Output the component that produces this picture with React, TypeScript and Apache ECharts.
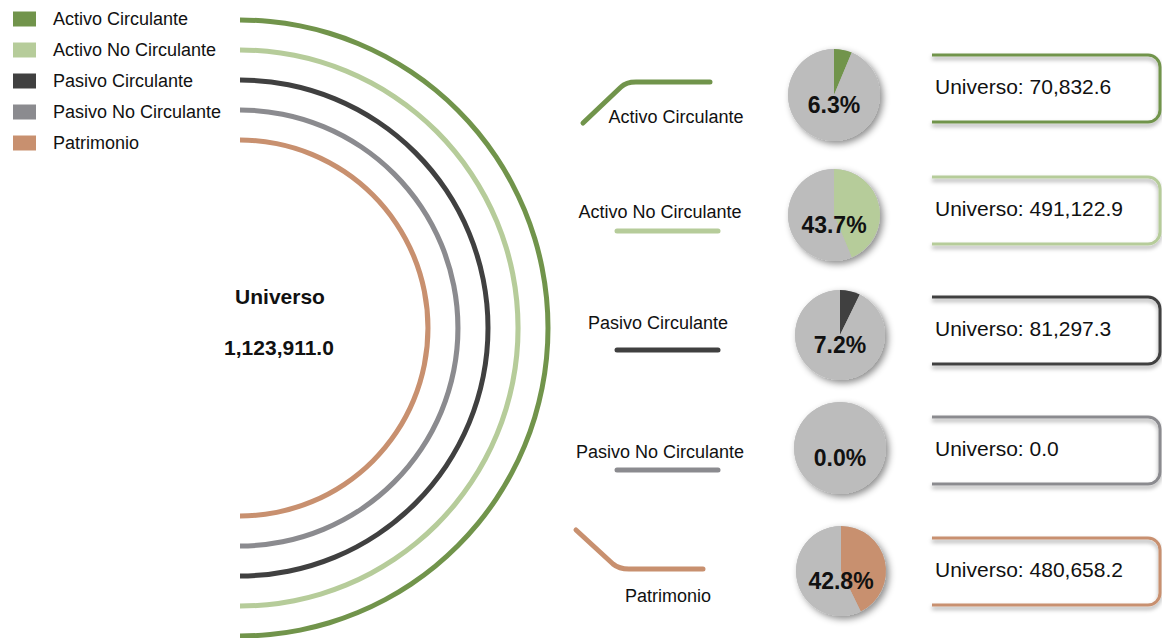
import React, { useEffect, useRef } from "react";
import * as echarts from "echarts";

const categories = ["Activo Circulante", "Activo No Circulante", "Pasivo Circulante", "Pasivo No Circulante", "Patrimonio"];
const values = [70832.6, 491122.9, 81297.3, 0.0, 480658.2];
const colors = ["#71944B", "#B6CC9A", "#404040", "#8B8B8F", "#C8906F"];
const restColor = "#BCBCBC";
const centerTitle = "Universo";
const boxPrefix = "Universo: ";

// layout (positions, sizes)
const arcCenter = [240, 328];
const arcRadii = [308, 278, 248, 218, 188];
const pieCenters = [[834, 95], [834, 215], [840, 335], [840, 448], [841, 571]];
const pieRadii = [46, 46, 45, 46, 45];
const boxTops = [55, 177, 297, 417, 538];
const boxLeft = 932;
const lineYs = [82, 231, 350, 470, 569];
const labelPos = [[676, 117], [660, 212], [658, 323], [660, 452], [668, 596]];

const FONT = "'Liberation Sans', Arial, sans-serif";

const fmt = (v: number) =>
  v.toLocaleString("en-US", { minimumFractionDigits: 1, maximumFractionDigits: 1 });

echarts.graphic.registerShape(
  "openbox",
  echarts.graphic.extendPath("M0 0 H216 A12 12 0 0 1 228 12 V55 A12 12 0 0 1 216 67 H0", {})
);
echarts.graphic.registerShape(
  "connUp",
  echarts.graphic.extendPath("M583 123 L621 87 Q626 82 636 82 L710 82", {})
);
echarts.graphic.registerShape(
  "connDown",
  echarts.graphic.extendPath("M576 530 L613 564 Q619 569 629 569 L703 569", {})
);

export default function App() {
  const ref = useRef<HTMLDivElement>(null);
  useEffect(() => {
    if (!ref.current) return;
    const chart = echarts.init(ref.current, undefined, { renderer: "svg" });
    const total = values.reduce((a, b) => a + b, 0);

    const arcSeries = categories.map((c, i) => ({
      type: "pie",
      silent: true,
      center: arcCenter,
      radius: [arcRadii[i] - 2.5, arcRadii[i] + 2.5],
      startAngle: 90,
      clockwise: true,
      label: { show: false },
      labelLine: { show: false },
      emphasis: { disabled: true },
      itemStyle: { borderWidth: 0 },
      data: [
        { name: c, value: 1, itemStyle: { color: colors[i] } },
        { name: "", value: 1, itemStyle: { color: "rgba(0,0,0,0)" } },
      ],
    }));

    const pieSeries = categories.map((c, i) => ({
      type: "pie",
      silent: true,
      center: pieCenters[i],
      radius: pieRadii[i],
      startAngle: 90,
      clockwise: true,
      label: { show: false },
      labelLine: { show: false },
      emphasis: { disabled: true },
      itemStyle: { borderWidth: 0 },
      data: [
        { name: c, value: values[i], itemStyle: { color: colors[i] } },
        {
          name: "Resto",
          value: total - values[i],
          itemStyle: { color: restColor },
          label: {
            show: true,
            position: "center",
            formatter: () => "{s|}\n{p|" + ((values[i] / total) * 100).toFixed(1) + "%}",
            rich: {
              s: { height: 20, lineHeight: 20, fontSize: 10 },
              p: {
                fontSize: 23,
                lineHeight: 26,
                fontWeight: "bold",
                fontFamily: FONT,
                color: "#111",
              },
            },
          },
        },
      ],
    }));

    const graphics: any[] = [];
    categories.forEach((c, i) => {
      graphics.push({
        type: "circle",
        silent: true,
        shape: { cx: pieCenters[i][0], cy: pieCenters[i][1], r: pieRadii[i] },
        style: {
          fill: restColor,
          shadowBlur: 7,
          shadowOffsetX: 3,
          shadowOffsetY: 3,
          shadowColor: "rgba(0,0,0,0.45)",
        },
      });
      graphics.push({
        type: "openbox",
        silent: true,
        x: boxLeft,
        y: boxTops[i],
        style: {
          fill: "none",
          stroke: colors[i],
          lineWidth: 3,
          shadowBlur: 4,
          shadowOffsetY: 3,
          shadowColor: "rgba(0,0,0,0.35)",
        },
      });
      graphics.push({
        type: "text",
        silent: true,
        x: boxLeft + 3,
        y: boxTops[i] + 31,
        style: {
          text: boxPrefix + fmt(values[i]),
          fontSize: 21,
          fontFamily: FONT,
          fill: "#111",
          align: "left",
          verticalAlign: "middle",
        },
      });
      graphics.push({
        type: "text",
        silent: true,
        x: labelPos[i][0],
        y: labelPos[i][1],
        style: {
          text: c,
          fontSize: 18,
          fontFamily: FONT,
          fill: "#111",
          align: "center",
          verticalAlign: "middle",
        },
      });
      if (i === 0) {
        graphics.push({
          type: "connUp",
          silent: true,
          style: { fill: "none", stroke: colors[i], lineWidth: 5, lineCap: "round", lineJoin: "round" },
        });
      } else if (i === categories.length - 1) {
        graphics.push({
          type: "connDown",
          silent: true,
          style: { fill: "none", stroke: colors[i], lineWidth: 5, lineCap: "round", lineJoin: "round" },
        });
      } else {
        graphics.push({
          type: "line",
          silent: true,
          shape: { x1: 617, y1: lineYs[i], x2: 718, y2: lineYs[i] },
          style: { stroke: colors[i], lineWidth: 5, lineCap: "round" },
        });
      }
    });
    graphics.push({
      type: "text",
      silent: true,
      x: 280,
      y: 296,
      style: {
        text: centerTitle,
        fontSize: 21,
        fontWeight: "bold",
        fontFamily: FONT,
        fill: "#111",
        align: "center",
        verticalAlign: "middle",
      },
    });
    graphics.push({
      type: "text",
      silent: true,
      x: 279,
      y: 347,
      style: {
        text: fmt(total),
        fontSize: 21,
        fontWeight: "bold",
        fontFamily: FONT,
        fill: "#111",
        align: "center",
        verticalAlign: "middle",
      },
    });

    chart.setOption({
      animation: false,
      backgroundColor: "#ffffff",
      legend: {
        orient: "vertical",
        left: 8,
        top: 5,
        itemWidth: 23,
        itemHeight: 15,
        itemGap: 13,
        icon: "rect",
        selectedMode: false,
        data: categories,
        textStyle: {
          fontSize: 18,
          lineHeight: 18,
          fontFamily: FONT,
          color: "#111",
          padding: [0, 0, 0, 12],
        },
      },
      graphic: graphics,
      series: [...arcSeries, ...pieSeries],
    });
    return () => chart.dispose();
  }, []);
  return (
    <div
      ref={ref}
      style={{ position: "fixed", left: 0, top: 0, width: 1162, height: 638 }}
    />
  );
}
